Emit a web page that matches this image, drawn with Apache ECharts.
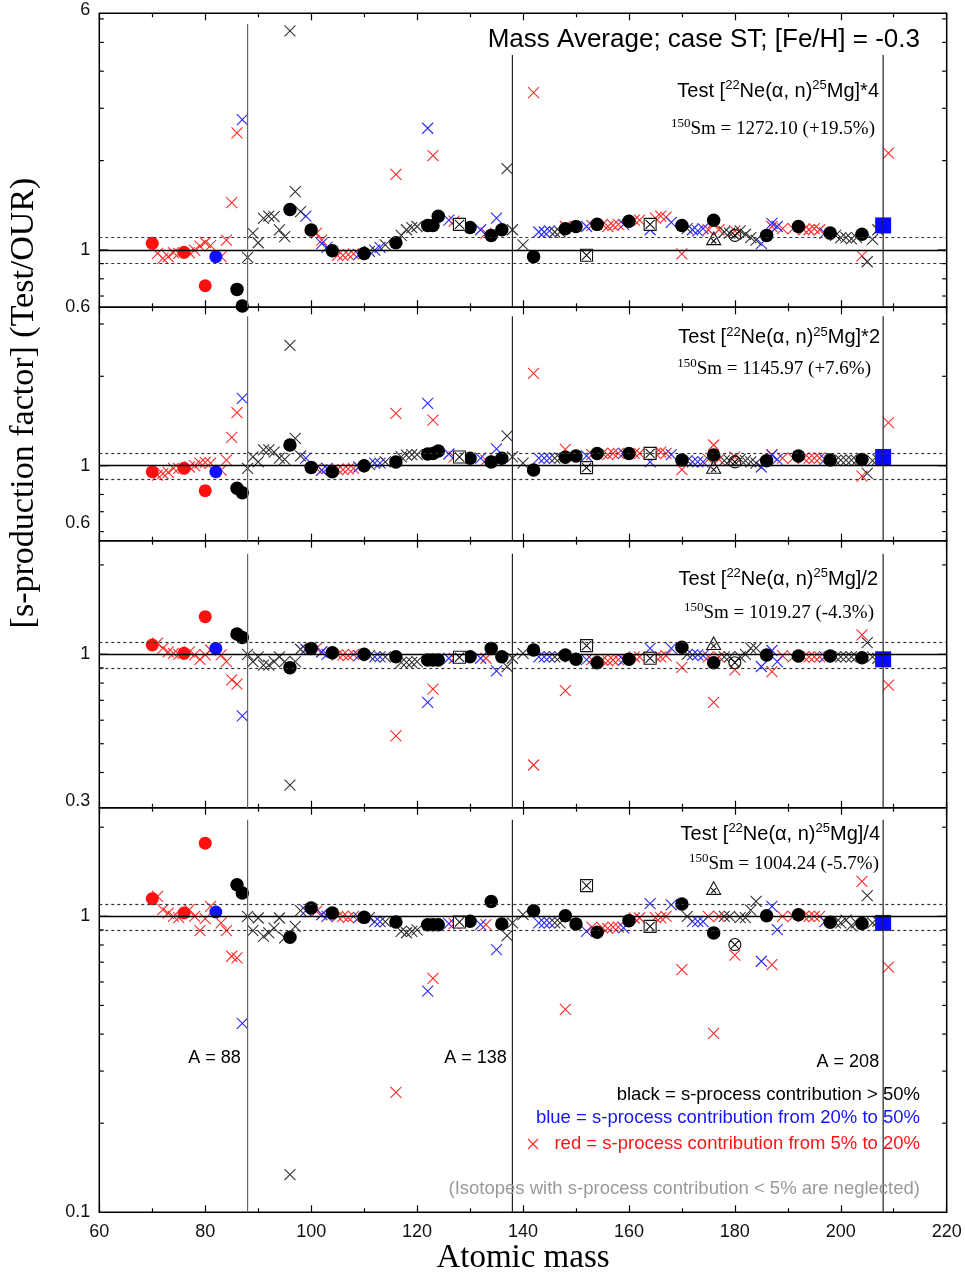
<!DOCTYPE html>
<html><head><meta charset="utf-8">
<script src="https://cdn.jsdelivr.net/npm/echarts@6/dist/echarts.min.js"></script>
<style>html,body{margin:0;padding:0;background:#fff}#c{width:965px;height:1276px}</style>
</head><body><div id="c"></div>
<script>
// ---------------- DATA ----------------
const xTickLabels = [60, 80, 100, 120, 140, 160, 180, 200, 220];
const guideA = [88, 138, 208];
const guideTexts = ['A = 88', 'A = 138', 'A = 208'];
const panelFactors = ['*4', '*2', '/2', '/4'];
const smTexts = ['1272.10 (+19.5%)', '1145.97 (+7.6%)', '1019.27 (-4.3%)', '1004.24 (-5.7%)'];
const yLabelValues = [[6, 1, 0.6], [1, 0.6], [1, 0.3], [1, 0.1]];
const yLabelTexts = [['6', '1', '0.6'], ['1', '0.6'], ['1', '0.3'], ['1', '0.1']];

const redCrossA = [71,72,73,74,75,77,78,79,80,81,83,84,85,86,101,102,105,106,107,108,116,123,127,133,142,148,153,155,156,157,158,161,162,165,166,167,170,175,176,177,180,187,189,191,193,194,195,196,204,209];
const redCrossP1 = [0.974,0.937,0.95,0.98,0.974,0.98,1.0,1.03,1.06,1.034,0.95,1.08,1.443,2.48,1.14,1.08,0.96,0.96,0.965,0.97,1.797,2.08,1.25,1.14,3.39,1.2,1.21,1.22,1.2,1.21,1.22,1.26,1.26,1.28,1.3,1.29,0.97,1.17,1.24,1.17,1.16,1.2,1.18,1.18,1.17,1.17,1.18,1.17,0.955,2.12];
const redCrossP2 = [0.93,0.94,0.95,0.98,0.98,0.99,1.0,1.02,1.026,1.02,0.967,1.045,1.246,1.508,0.98,0.967,0.97,0.97,0.975,0.98,1.50,1.425,1.07,1.045,2.045,1.135,1.09,1.1,1.09,1.1,1.1,1.1,1.1,1.1,1.11,1.1,0.97,1.05,1.174,1.05,1.07,1.09,1.06,1.06,1.06,1.06,1.06,1.06,0.923,1.396];
const redCrossP3 = [1.09,1.047,1.02,1.008,1.0,1.02,0.995,0.962,0.995,1.034,0.995,0.945,0.82,0.794,1.047,1.02,0.995,0.995,0.99,1.0,0.531,0.763,0.97,0.97,0.424,0.755,0.96,0.957,0.95,0.957,0.96,0.98,0.98,0.98,0.98,0.99,0.904,0.98,0.689,0.98,0.886,0.874,0.99,0.98,0.98,0.98,0.98,0.98,1.162,0.788];
const redCrossP4 = [1.168,1.053,1.026,1.0,0.99,1.053,1.0,0.895,0.982,1.08,0.95,0.895,0.733,0.724,1.04,1.013,1.0,1.0,0.99,1.0,0.254,0.617,0.945,0.937,null,0.485,0.92,0.914,0.91,0.92,0.92,0.987,0.987,0.99,0.99,1.0,0.661,1.0,0.402,1.0,0.739,0.687,1.0,1.0,1.0,1.0,1.0,1.0,1.312,0.673];

const blueCrossA = [87,99,102,103,109,112,113,122,126,132,135,143,144,145,152,159,164,168,172,173,174,185,187,188,197];
const blueCrossP1 = [2.75,1.30,1.05,1.02,0.965,1.0,1.02,2.57,1.26,1.17,1.28,1.15,1.15,1.16,1.2,1.22,1.17,1.24,1.17,1.16,1.18,1.05,1.23,1.2,1.14];
const blueCrossP2 = [1.686,1.06,0.967,0.98,0.99,1.02,1.02,1.62,1.095,1.06,1.14,1.06,1.06,1.06,1.08,1.1,1.03,1.09,1.03,1.03,1.03,0.99,1.086,1.05,1.05];
const blueCrossP3 = [0.62,1.04,1.02,1.0,0.99,0.98,0.98,0.689,0.97,0.97,0.88,0.98,0.98,0.98,0.96,0.957,1.047,1.047,0.995,0.995,0.99,0.91,1.03,0.945,0.98];
const blueCrossP4 = [0.435,1.045,1.013,1.0,0.99,0.96,0.96,0.559,0.945,0.937,0.772,0.95,0.95,0.95,0.89,0.914,1.103,1.094,0.962,0.962,0.96,0.705,1.08,0.902,0.96];

const blackCrossA = [88,89,90,91,92,93,94,95,96,97,98,111,114,117,118,119,120,137,138,140,146,147,171,178,179,181,182,183,184,199,200,201,202,203,205,206,207];
const blackCrossP1 = [0.945,1.14,1.058,1.278,1.30,1.295,1.168,1.109,5.47,1.572,1.346,0.99,1.04,1.12,1.17,1.19,1.2,1.88,1.17,1.04,1.15,1.15,1.18,1.15,1.14,1.16,1.13,1.1,1.08,1.12,1.1,1.1,1.09,1.1,0.913,1.086,1.17];
const blackCrossP2 = [0.98,1.07,1.03,1.13,1.13,1.11,1.06,1.05,2.54,1.236,1.08,1.01,1.03,1.07,1.086,1.09,1.09,1.26,1.07,1.02,1.06,1.06,1.04,1.04,1.04,1.05,1.04,1.03,1.02,1.04,1.045,1.045,1.045,1.04,0.942,1.04,1.05];
const blackCrossP3 = [1.0,0.945,0.98,0.92,0.92,0.945,0.98,0.945,0.363,0.945,1.04,0.99,0.98,0.94,0.94,0.94,0.945,0.909,0.97,1.008,0.98,0.98,1.0,0.98,0.98,0.98,1.0,1.05,1.05,0.98,0.98,0.98,0.98,0.98,1.095,0.98,0.97];
const blackCrossP4 = [1.0,0.895,0.987,0.856,0.879,0.913,0.987,0.845,0.134,0.925,1.045,0.99,0.96,0.89,0.88,0.89,0.9,0.86,0.95,1.013,0.95,0.95,1.0,1.0,1.0,0.99,0.99,1.05,1.123,0.95,0.95,0.97,0.93,0.95,1.174,0.95,0.962];

const blackCircleA = [86,87,96,100,104,110,116,122,123,124,130,134,136,142,148,150,154,160,170,176,186,192,198,204];
const blackCircleP1 = [0.737,0.648,1.37,1.168,0.995,0.974,1.058,1.21,1.21,1.30,1.19,1.12,1.17,0.95,1.18,1.2,1.22,1.25,1.21,1.26,1.12,1.2,1.14,1.13];
const blackCircleP2 = [0.839,0.811,1.174,0.987,0.954,1.0,1.03,1.095,1.1,1.12,1.06,1.03,1.06,0.967,1.067,1.078,1.1,1.1,1.045,1.086,1.04,1.078,1.045,1.05];
const blackCircleP3 = [1.17,1.14,0.902,1.047,1.013,1.0,0.982,0.957,0.957,0.957,0.982,1.047,0.982,1.034,0.995,0.962,0.937,0.962,1.056,0.937,0.995,0.987,0.987,0.974];
const blackCircleP4 = [1.278,1.198,0.85,1.067,1.026,0.992,0.957,0.937,0.937,0.937,0.962,1.123,0.942,1.045,1.005,0.942,0.883,0.967,1.1,0.879,1.005,1.013,0.955,0.945];

const redCircleA = [70, 76, 80];
const redCircleP1 = [1.053, 0.982, 0.758];
const redCircleP2 = [0.954, 0.98, 0.824];
const redCircleP3 = [1.075, 1.008, 1.339];
const redCircleP4 = [1.147, 1.026, 1.766];

const blueCircleA = [82];
const blueCircleP1 = [0.95], blueCircleP2 = [0.954], blueCircleP3 = [1.047], blueCircleP4 = [1.034];

const squareXA = [128, 152, 164];
const squareXP1 = [1.22, 0.96, 1.22];
const squareXP2 = [1.07, 0.985, 1.1];
const squareXP3 = [0.977, 1.07, 0.97];
const squareXP4 = [0.957, 1.27, 0.925];

const triangleXA = [176];
const triangleXP1 = [1.095], triangleXP2 = [0.99], triangleXP3 = [1.09], triangleXP4 = [1.246];

const circleXA = [180];
const circleXP1 = [1.12], circleXP2 = [1.03], circleXP3 = [0.937], circleXP4 = [0.803];

const blueSquareA = [208];
const blueSquareP1 = [1.21], blueSquareP2 = [1.07], blueSquareP3 = [0.962], blueSquareP4 = [0.95];

// ---------------- LAYOUT / STYLE ----------------
const gridDefs = [
  {top: 13.3, height: 294},
  {top: 307.3, height: 233.4},
  {top: 540.7, height: 267},
  {top: 807.7, height: 404.6}
];
const yRanges = [[0.6414, 6.266], [0.559, 3.415], [0.3045, 2.413], [0.1, 2.328]];
const raisedLabel = [[true, false, true], [false, true], [false, true], [false, false]];
const guideGap = [[10.7, 41.7, 41.7], [9, 9, 9], [13, 13, 13], [12, 12, 12]];
const GL = 99.3, GR = 18.3;
const SANS = 'Liberation Sans, Arial, Helvetica, sans-serif';
const SERIF = 'Liberation Serif, Times New Roman, serif';
const RED = '#ff2a2a', BLUE = '#2a2aff';

const CROSS = 'path://M0,0L10,10M10,0L0,10';
const SQX = 'path://M0,0L10,0L10,10L0,10ZM1.2,1.2L8.8,8.8M8.8,1.2L1.2,8.8';
const TRIX = 'path://M5,0L10,9L0,9ZM3.2,4.6L6.8,8.2M6.8,4.6L3.2,8.2';
const CIRX = 'path://M10,5A5,5,0,1,1,0,5A5,5,0,1,1,10,5ZM1.46,1.46L8.54,8.54M8.54,1.46L1.46,8.54';

const markerDefs = [
  {A: redCrossA, vals: [redCrossP1, redCrossP2, redCrossP3, redCrossP4], symbol: CROSS, size: 11, fill: 'rgba(0,0,0,0)', stroke: RED, lw: 1.1},
  {A: blueCrossA, vals: [blueCrossP1, blueCrossP2, blueCrossP3, blueCrossP4], symbol: CROSS, size: 11, fill: 'rgba(0,0,0,0)', stroke: BLUE, lw: 1.1},
  {A: blackCrossA, vals: [blackCrossP1, blackCrossP2, blackCrossP3, blackCrossP4], symbol: CROSS, size: 11, fill: 'rgba(0,0,0,0)', stroke: '#333', lw: 1.1},
  {A: redCircleA, vals: [redCircleP1, redCircleP2, redCircleP3, redCircleP4], symbol: 'circle', size: 13, fill: '#ff1010', stroke: null, lw: 0},
  {A: blueCircleA, vals: [blueCircleP1, blueCircleP2, blueCircleP3, blueCircleP4], symbol: 'circle', size: 13, fill: '#1010ff', stroke: null, lw: 0},
  {A: blackCircleA, vals: [blackCircleP1, blackCircleP2, blackCircleP3, blackCircleP4], symbol: 'circle', size: 13.5, fill: '#000', stroke: null, lw: 0},
  {A: squareXA, vals: [squareXP1, squareXP2, squareXP3, squareXP4], symbol: SQX, size: 12, fill: '#fff', stroke: '#111', lw: 1.1},
  {A: triangleXA, vals: [triangleXP1, triangleXP2, triangleXP3, triangleXP4], symbol: TRIX, size: 14, fill: 'rgba(0,0,0,0)', stroke: '#111', lw: 1.1},
  {A: circleXA, vals: [circleXP1, circleXP2, circleXP3, circleXP4], symbol: CIRX, size: 12, fill: 'rgba(0,0,0,0)', stroke: '#111', lw: 1.1},
  {A: blueSquareA, vals: [blueSquareP1, blueSquareP2, blueSquareP3, blueSquareP4], symbol: 'rect', size: 16, fill: '#0a0aff', stroke: null, lw: 0}
];

function pts(A, vals) {
  const out = [];
  for (let i = 0; i < A.length; i++) if (vals[i] != null) out.push([A[i], vals[i]]);
  return out;
}

const grids = [], xAxes = [], yAxes = [], series = [];
gridDefs.forEach((g, p) => {
  grids.push({left: GL, right: GR, top: g.top, height: g.height, show: true, borderColor: '#000', borderWidth: 1.5, backgroundColor: 'transparent'});
  ['bottom', 'top'].forEach(pos => {
    const isLabel = (p === 3 && pos === 'bottom');
    xAxes.push({
      type: 'value', gridIndex: p, position: pos, min: 60, max: 220, interval: 20,
      axisLine: {show: false},
      axisTick: {show: true, inside: true, length: 7, lineStyle: {color: '#000', width: 1.2}},
      minorTick: {show: true, splitNumber: 2, length: 4, lineStyle: {color: '#000', width: 1.2}},
      splitLine: {show: false}, minorSplitLine: {show: false},
      axisLabel: {show: isLabel, fontSize: 18, fontFamily: SANS, color: '#111', margin: 11,
        formatter: v => (xTickLabels.indexOf(v) >= 0 ? String(v) : '')}
    });
  });
  yAxes.push({
    type: 'log', logBase: 10, gridIndex: p, min: yRanges[p][0], max: yRanges[p][1],
    axisLine: {show: false}, axisTick: {show: false}, axisLabel: {show: false},
    splitLine: {show: false}, minorTick: {show: false}, minorSplitLine: {show: false}
  });
  markerDefs.forEach((m, k) => {
    const s = {
      type: 'scatter', xAxisIndex: 2 * p, yAxisIndex: p, silent: true, animation: false,
      symbol: m.symbol, symbolSize: m.size, symbolKeepAspect: true,
      data: pts(m.A, m.vals[p]),
      itemStyle: {color: m.fill, borderColor: m.stroke || m.fill, borderWidth: m.lw, opacity: 1},
      emphasis: {disabled: true}
    };
    if (k === 0) {
      s.markLine = {
        silent: true, animation: false, symbol: ['none', 'none'], label: {show: false},
        emphasis: {disabled: true},
        data: [
          {yAxis: 1, lineStyle: {color: '#000', width: 1.3, type: 'solid'}},
          {yAxis: 1.1, lineStyle: {color: '#333', width: 1.2, type: [3, 3]}},
          {yAxis: 0.9, lineStyle: {color: '#333', width: 1.2, type: [3, 3]}}
        ]
      };
    }
    series.push(s);
  });
});

const chart = echarts.init(document.getElementById('c'), null, {renderer: 'canvas'});
chart.setOption({
  animation: false, backgroundColor: '#fff',
  grid: grids, xAxis: xAxes, yAxis: yAxes, series: series
});

// ---------------- DECORATION (positions from the library's scales) ----------------
const cx = v => chart.convertToPixel({xAxisIndex: 0}, v);
const cy = (p, v) => chart.convertToPixel({yAxisIndex: p}, v);
const G = [];
const xL = cx(60), xR = cx(220);
function line(x1, y1, x2, y2, stroke, lw) {
  G.push({type: 'line', silent: true, z: 50, shape: {x1, y1, x2, y2}, style: {stroke, lineWidth: lw}});
}
function text(x, y, t, opt) {
  G.push({type: 'text', silent: true, z: 60, style: Object.assign({x, y, text: t, fill: '#000', font: '18px ' + SANS, align: 'left', verticalAlign: 'middle'}, opt)});
}

const minorVals = [0.2,0.3,0.4,0.5,0.6,0.7,0.8,0.9,2,3,4,5,6,7,8,9];
gridDefs.forEach((g, p) => {
  const [lo, hi] = yRanges[p];
  const y1 = cy(p, 1);
  line(xL, y1, xL + 9, y1, '#000', 1.2);
  line(xR - 9, y1, xR, y1, '#000', 1.2);
  minorVals.forEach(v => {
    if (v > lo * 1.01 && v < hi * 0.99) {
      const y = cy(p, v);
      line(xL, y, xL + 4.5, y, '#000', 1.2);
      line(xR - 4.5, y, xR, y, '#000', 1.2);
    }
  });
  yLabelValues[p].forEach((v, i) => {
    text(xL - 9, cy(p, v), yLabelTexts[p][i], {align: 'right', verticalAlign: raisedLabel[p][i] ? 'bottom' : 'middle', fill: '#111'});
  });
  const yTop = cy(p, hi), yBot = cy(p, lo);
  guideA.forEach((a, i) => {
    line(cx(a), yTop + guideGap[p][i], cx(a), yBot, i === 0 ? '#666' : '#222', 1.2);
  });
  const rich = {
    n: {fontSize: 20, fontFamily: SANS, verticalAlign: 'bottom', fill: '#000'},
    s: {fontSize: 13, fontFamily: SANS, verticalAlign: 'bottom', padding: [0, 0, 9, 0], fill: '#000'},
    m: {fontSize: 19, fontFamily: SERIF, verticalAlign: 'bottom', fill: '#000'},
    t: {fontSize: 13, fontFamily: SERIF, verticalAlign: 'bottom', padding: [0, 0, 9, 0], fill: '#000'}
  };
  const testY = [90, 336.7, 578, 833][p];
  const smY = [128, 368, 611.7, 863][p];
  const testR = [879, 880, 878, 880][p];
  const smR = [875, 871, 874, 879][p];
  G.push({type: 'text', silent: true, z: 60, style: {x: testR, y: testY, align: 'right', verticalAlign: 'middle',
    text: '{n|Test [}{s|22}{n|Ne(α, n)}{s|25}{n|Mg]' + panelFactors[p] + '}', rich}});
  G.push({type: 'text', silent: true, z: 60, style: {x: smR, y: smY, align: 'right', verticalAlign: 'middle',
    text: '{t|150}{m|Sm = ' + smTexts[p] + '}', rich}});
});

text(cx(88) - 33, 1058, guideTexts[0], {align: 'center'});
text(cx(138) - 37, 1058, guideTexts[1], {align: 'center'});
text(cx(208) - 4, 1062, guideTexts[2], {align: 'right'});

text(920, 40, 'Mass Average; case ST; [Fe/H] = -0.3', {align: 'right', font: '26px ' + SANS});

text(920, 1095, 'black = s-process contribution > 50%', {align: 'right', font: '18.5px ' + SANS, fill: '#000'});
text(920, 1118, 'blue = s-process contribution from 20% to 50%', {align: 'right', font: '18.5px ' + SANS, fill: '#1414ff'});
text(920, 1144, 'red = s-process contribution from 5% to 20%', {align: 'right', font: '18.5px ' + SANS, fill: '#ff1414'});
line(528, 1139, 538, 1149, RED, 1.1);
line(538, 1139, 528, 1149, RED, 1.1);
text(920, 1189, '(Isotopes with s-process contribution < 5% are neglected)', {align: 'right', font: '18.5px ' + SANS, fill: '#999'});

G.push({type: 'text', silent: true, z: 60, x: 24, y: 403, rotation: Math.PI / 2,
  style: {x: 0, y: 0, text: '[s-production factor] (Test/OUR)', font: '34px ' + SERIF, fill: '#000', align: 'center', verticalAlign: 'middle'}});
text(523, 1258, 'Atomic mass', {align: 'center', font: '33px ' + SERIF});

chart.setOption({graphic: G});
</script></body></html>
